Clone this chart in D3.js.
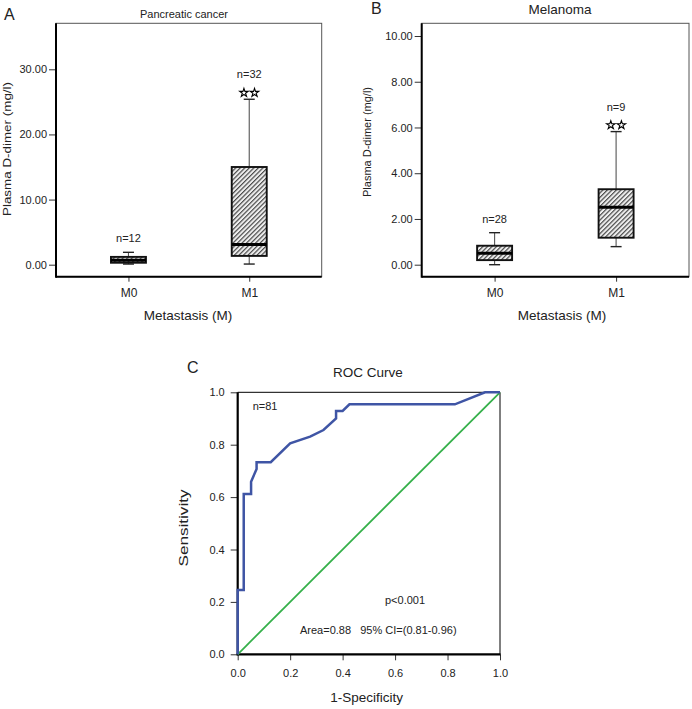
<!DOCTYPE html>
<html><head><meta charset="utf-8">
<script src="https://cdn.jsdelivr.net/npm/d3@7"></script>
<style>body{margin:0;background:#fff;} svg{display:block;font-family:"Liberation Sans",Arial,sans-serif;}</style>
</head><body>
<svg id="c" width="692" height="709"></svg>
<script>
// ---------- DATA ----------
const groups = ["M0", "M1"];
// Panel A: Pancreatic cancer
const aLow  = [0.1, 0.1];
const aQ1   = [0.3, 1.35];
const aMed  = [0.7, 3.1];
const aQ3   = [1.2, 15.0];
const aHigh = [1.9, 25.4];
const aN    = ["n=12", "n=32"];
const aSig  = [false, true];
const aTicks = [0, 10, 20, 30];
// Panel B: Melanoma
const bLow  = [0.0, 0.79];
const bQ1   = [0.2, 1.18];
const bMed  = [0.5, 2.51];
const bQ3   = [0.83, 3.3];
const bHigh = [1.4, 5.82];
const bN    = ["n=28", "n=9"];
const bSig  = [false, true];
const bTicks = [0, 2, 4, 6, 8, 10];
// Panel C: ROC curve
const fpr = [0, 0, 0.023, 0.023, 0.051, 0.051, 0.072, 0.072, 0.126, 0.200, 0.276, 0.327, 0.375, 0.375, 0.400, 0.426, 0.828, 0.943, 1.0];
const tpr = [0, 0.245, 0.245, 0.612, 0.612, 0.659, 0.707, 0.733, 0.733, 0.805, 0.831, 0.856, 0.900, 0.929, 0.929, 0.954, 0.954, 1.0, 1.0];
const diagX = [0, 1];
const diagY = [0, 1];
const rocTicks = [0, 0.2, 0.4, 0.6, 0.8, 1.0];

// ---------- DRAW ----------
const svg = d3.select("#c");
const TXT = "#222";
const defs = svg.append("defs");
const pat = defs.append("pattern").attr("id", "hatch").attr("patternUnits", "userSpaceOnUse")
  .attr("width", 3.2).attr("height", 3.2).attr("patternTransform", "rotate(45)");
pat.append("rect").attr("width", 3.2).attr("height", 3.2).attr("fill", "#eeeeee");
pat.append("line").attr("x1", 0.6).attr("y1", 0).attr("x2", 0.6).attr("y2", 3.2)
  .attr("stroke", "#444").attr("stroke-width", 1.15);

function boxPanel(cfg) {
  const g = svg.append("g");
  const {x0, x1, y0, y1} = cfg.frame;
  const y = d3.scaleLinear().domain(cfg.domain).range(cfg.range);
  const x = d3.scalePoint().domain(groups).range([x0, x1]).padding(0.6);
  g.append("rect").attr("x", x0).attr("y", y0).attr("width", x1 - x0).attr("height", y1 - y0)
    .attr("fill", "none").attr("stroke", "#555").attr("stroke-width", 1);
  const ya = g.append("g").attr("transform", `translate(${x0},0)`)
    .call(d3.axisLeft(y).tickValues(cfg.ticks).tickFormat(d3.format(".2f")).tickSize(7).tickPadding(2));
  ya.select(".domain").remove();
  ya.selectAll("line").attr("stroke", "#333");
  ya.selectAll("text").attr("font-size", 11).attr("fill", TXT).attr("font-family", null);
  const xa = g.append("g").attr("transform", `translate(0,${y1})`)
    .call(d3.axisBottom(x).tickSize(5).tickPadding(7));
  xa.select(".domain").remove();
  xa.selectAll("line").attr("stroke", "#333");
  xa.selectAll("text").attr("font-size", 12).attr("fill", TXT).attr("font-family", null);
  g.append("line").attr("x1", x0).attr("x2", x0).attr("y1", y0).attr("y2", y1 + 1)
    .attr("stroke", "#000").attr("stroke-width", 2);
  g.append("line").attr("x1", x0).attr("x2", x1).attr("y1", y1).attr("y2", y1)
    .attr("stroke", "#000").attr("stroke-width", 2);

  const bw = 35, cw = 11;
  groups.forEach((k, i) => {
    const cx = x(k);
    g.append("line").attr("x1", cx).attr("x2", cx).attr("y1", y(cfg.high[i])).attr("y2", y(cfg.q3[i]))
      .attr("stroke", "#555").attr("stroke-width", 1.1);
    g.append("line").attr("x1", cx).attr("x2", cx).attr("y1", y(cfg.q1[i])).attr("y2", y(cfg.low[i]))
      .attr("stroke", "#555").attr("stroke-width", 1.1);
    [cfg.high[i], cfg.low[i]].forEach(v => {
      g.append("line").attr("x1", cx - cw / 2).attr("x2", cx + cw / 2).attr("y1", y(v)).attr("y2", y(v))
        .attr("stroke", "#222").attr("stroke-width", 1.4);
    });
    g.append("rect").attr("x", cx - bw / 2).attr("y", y(cfg.q3[i])).attr("width", bw)
      .attr("height", y(cfg.q1[i]) - y(cfg.q3[i]))
      .attr("fill", "url(#hatch)").attr("stroke", "#111").attr("stroke-width", 1.9);
    g.append("line").attr("x1", cx - bw / 2).attr("x2", cx + bw / 2).attr("y1", y(cfg.med[i])).attr("y2", y(cfg.med[i]))
      .attr("stroke", "#000").attr("stroke-width", 3);
    const top = y(cfg.high[i]);
    if (cfg.sig[i]) {
      [-5.3, 5.3].forEach(dx => {
        g.append("path").attr("d", d3.symbol(d3.symbolStar, 22)())
          .attr("transform", `translate(${cx + dx},${top - 6.5})`)
          .attr("fill", "#fff").attr("stroke", "#000").attr("stroke-width", 1.1);
      });
    }
    g.append("text").attr("x", cx).attr("y", top - (cfg.sig[i] ? 20.8 : 10))
      .attr("text-anchor", "middle").attr("font-size", 11).attr("fill", TXT).text(cfg.n[i]);
  });
  return g;
}

// Panel A
boxPanel({frame: {x0: 56, x1: 321.7, y0: 23.3, y1: 276.7}, domain: [0, 30], range: [264.7, 69.3],
  ticks: aTicks, low: aLow, q1: aQ1, med: aMed, q3: aQ3, high: aHigh, n: aN, sig: aSig});
svg.append("text").attr("x", 4).attr("y", 20).attr("font-size", 16).attr("fill", TXT).text("A");
svg.append("text").attr("x", 184).attr("y", 17.5).attr("text-anchor", "middle").attr("font-size", 11).attr("fill", TXT).text("Pancreatic cancer");
svg.append("text").attr("transform", "translate(10.5,149) rotate(-90)").attr("text-anchor", "middle")
  .attr("font-size", 11).attr("fill", TXT).attr("textLength", 134).attr("lengthAdjust", "spacingAndGlyphs").text("Plasma D-dimer (mg/l)");
svg.append("text").attr("x", 188).attr("y", 320).attr("text-anchor", "middle").attr("font-size", 13.5).attr("fill", TXT).text("Metastasis (M)");

// Panel B
boxPanel({frame: {x0: 421.7, x1: 689, y0: 23.3, y1: 276.7}, domain: [0, 10], range: [264.7, 36],
  ticks: bTicks, low: bLow, q1: bQ1, med: bMed, q3: bQ3, high: bHigh, n: bN, sig: bSig});
svg.append("text").attr("x", 371).attr("y", 14).attr("font-size", 16).attr("fill", TXT).text("B");
svg.append("text").attr("x", 560).attr("y", 14).attr("text-anchor", "middle").attr("font-size", 13.5).attr("fill", TXT).text("Melanoma");
svg.append("text").attr("transform", "translate(371,142) rotate(-90)").attr("text-anchor", "middle")
  .attr("font-size", 11).attr("fill", TXT).attr("textLength", 110).attr("lengthAdjust", "spacingAndGlyphs").text("Plasma D-dimer (mg/l)");
svg.append("text").attr("x", 562).attr("y", 320).attr("text-anchor", "middle").attr("font-size", 13.5).attr("fill", TXT).text("Metastasis (M)");

// Panel C: ROC
(function () {
  const g = svg.append("g");
  const L = 237.7, R = 500, T = 392.3, B = 654.3;
  const x = d3.scaleLinear().domain([0, 1]).range([L, R]);
  const y = d3.scaleLinear().domain([0, 1]).range([B, T]);
  const fmt = d3.format(".1f");
  const ya = g.append("g").attr("transform", `translate(${L},0)`)
    .call(d3.axisLeft(y).tickValues(rocTicks).tickFormat(fmt).tickSize(7).tickPadding(6));
  ya.select(".domain").remove();
  ya.selectAll("line").attr("stroke", "#333");
  ya.selectAll("text").attr("font-size", 11).attr("fill", TXT).attr("font-family", null);
  const xa = g.append("g").attr("transform", `translate(0,${B})`)
    .call(d3.axisBottom(x).tickValues(rocTicks).tickFormat(fmt).tickSize(6).tickPadding(8.5));
  xa.select(".domain").remove();
  xa.selectAll("line").attr("stroke", "#333");
  xa.selectAll("text").attr("font-size", 11).attr("fill", TXT).attr("font-family", null);
  g.append("line").attr("x1", L).attr("x2", R).attr("y1", T).attr("y2", T).attr("stroke", "#000").attr("stroke-width", 1);
  g.append("line").attr("x1", R).attr("x2", R).attr("y1", T).attr("y2", B).attr("stroke", "#000").attr("stroke-width", 1);
  g.append("line").attr("x1", L).attr("x2", L).attr("y1", T).attr("y2", B + 1).attr("stroke", "#000").attr("stroke-width", 2.2);
  g.append("line").attr("x1", L - 1).attr("x2", R + 0.5).attr("y1", B).attr("y2", B).attr("stroke", "#000").attr("stroke-width", 2.2);
  const line = d3.line().x(d => x(d[0])).y(d => y(d[1]));
  g.append("path").attr("d", line(diagX.map((v, i) => [v, diagY[i]])))
    .attr("fill", "none").attr("stroke", "#35b04a").attr("stroke-width", 1.8);
  g.append("path").attr("d", line(fpr.map((v, i) => [v, tpr[i]])))
    .attr("fill", "none").attr("stroke", "#3f55a5").attr("stroke-width", 2.5).attr("stroke-linejoin", "miter");
  g.append("text").attr("x", 252.7).attr("y", 410).attr("font-size", 11).attr("fill", TXT).text("n=81");
  g.append("text").attr("x", 385).attr("y", 604).attr("font-size", 11).attr("fill", TXT).text("p<0.001");
  g.append("text").attr("x", 300).attr("y", 634).attr("font-size", 11).attr("fill", TXT)
    .attr("xml:space", "preserve").style("white-space", "pre").text("Area=0.88   95% CI=(0.81-0.96)");
})();
svg.append("text").attr("x", 187).attr("y", 373).attr("font-size", 16).attr("fill", TXT).text("C");
svg.append("text").attr("x", 368).attr("y", 377).attr("text-anchor", "middle").attr("font-size", 13.5).attr("fill", TXT).text("ROC Curve");
svg.append("text").attr("transform", "translate(188,528) rotate(-90)").attr("text-anchor", "middle")
  .attr("font-size", 13.5).attr("fill", TXT).attr("textLength", 77).attr("lengthAdjust", "spacingAndGlyphs").text("Sensitivity");
svg.append("text").attr("x", 366.7).attr("y", 702).attr("text-anchor", "middle").attr("font-size", 13.5).attr("fill", TXT).text("1-Specificity");
</script>
</body></html>
